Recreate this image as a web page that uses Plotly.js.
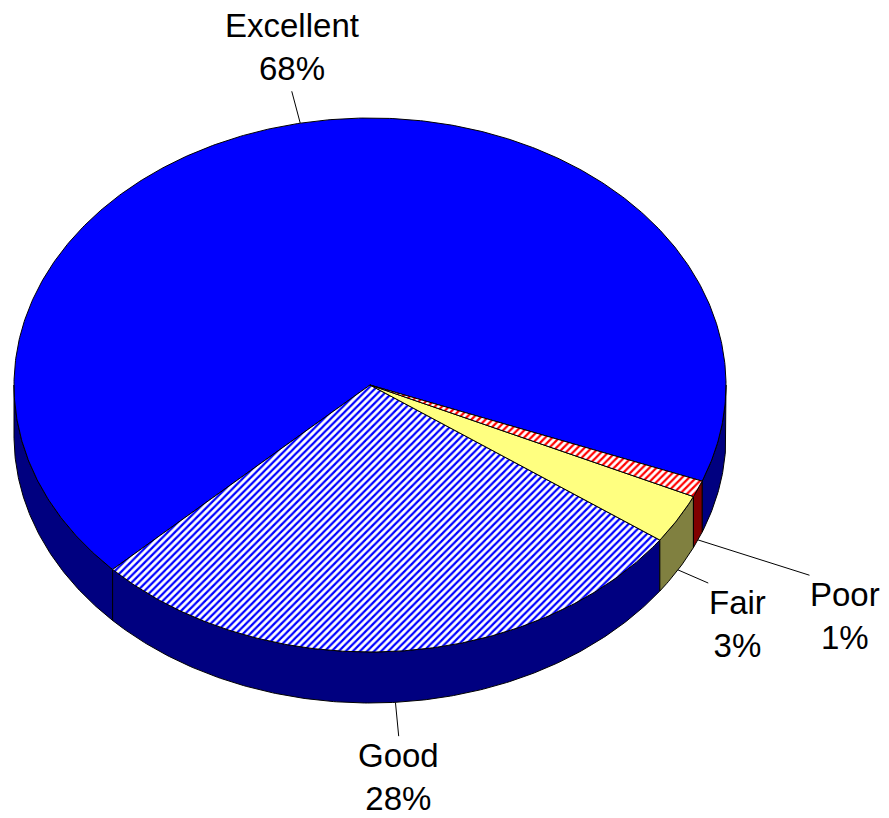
<!DOCTYPE html>
<html>
<head>
<meta charset="utf-8">
<script src="https://cdn.plot.ly/plotly-3.0.1.min.js"></script>
<style>html,body{margin:0;padding:0;background:#fff}#chart{width:889px;height:818px}</style>
</head>
<body>
<div id="chart"></div>
<script>
// ---- data ----
const categories = ['Excellent', 'Good', 'Fair', 'Poor'];
const percents = [68, 28, 3, 1];
const labelTexts = ['Excellent<br>68%', 'Good<br>28%', 'Fair<br>3%', 'Poor<br>1%'];

// ---- style ----
const topColors = ['#0000ff', '#ffffff', '#ffff80', '#ffffff'];
const hatchColors = [null, '#0000ff', null, '#ff0000'];
const sideColors = ['#000080', '#000080', '#808040', '#800000'];
const leaderLengths = [33, 34, 33, 117];
const labelXAnchor = ['center', 'center', 'left', 'left'];
const labelYAnchor = ['bottom', 'top', 'top', 'top'];
const labelYShift = [3, 0, 0, 0];

// ---- geometry (pixel space of the plot area) ----
const W = 889, H = 818;
const cx = 370, cy = 385, rx = 356, ry = 267, depth = 51;
const startDeg = -21.1; // start angle of first slice, counterclockwise
const rad = d => d * Math.PI / 180;

function pt(aDeg, dz) {
  return [cx + rx * Math.cos(rad(aDeg)), cy - ry * Math.sin(rad(aDeg)) + dz];
}
function arc(a0, a1, dz) {
  const n = Math.max(2, Math.ceil(Math.abs(a1 - a0) / 0.5));
  const xs = [], ys = [];
  for (let i = 0; i <= n; i++) {
    const a = a0 + (a1 - a0) * i / n;
    const p = pt(a, dz);
    xs.push(p[0]); ys.push(p[1]);
  }
  return [xs, ys];
}

const total = percents.reduce((s, v) => s + v, 0);
const slices = [];
let acc = startDeg;
percents.forEach((v, i) => {
  const span = v / total * 360;
  slices.push({ i, a0: acc, a1: acc + span });
  acc += span;
});

const sideTraces = [], topTraces = [], leaderTraces = [], annotations = [];

// visible front walls: angles where sin < 0 (180..360 mod 360)
function frontIntervals(a0, a1) {
  const out = [];
  for (let k = -2; k <= 2; k++) {
    const f0 = 180 + 360 * k, f1 = 360 + 360 * k;
    const s = Math.max(a0, f0), e = Math.min(a1, f1);
    if (e > s) out.push([s, e]);
  }
  return out;
}

slices.forEach(sl => {
  frontIntervals(sl.a0, sl.a1).forEach(([s, e]) => {
    const [tx, ty] = arc(s, e, 0);
    const [bx, by] = arc(e, s, depth);
    const xs = tx.concat(bx, [tx[0]]);
    const ys = ty.concat(by, [ty[0]]);
    sideTraces.push({
      type: 'scatter', mode: 'lines', x: xs, y: ys, fill: 'toself',
      fillcolor: sideColors[sl.i], line: { color: '#000', width: 1 },
      hoverinfo: 'skip', showlegend: false
    });
  });
});

slices.forEach(sl => {
  const [ax, ay] = arc(sl.a0, sl.a1, 0);
  const xs = [cx].concat(ax, [cx]);
  const ys = [cy].concat(ay, [cy]);
  const tr = {
    type: 'scatter', mode: 'lines', x: xs, y: ys, fill: 'toself',
    fillcolor: topColors[sl.i], line: { color: '#000', width: 1 },
    hoverinfo: 'skip', showlegend: false, name: categories[sl.i]
  };
  if (hatchColors[sl.i]) {
    tr.fillpattern = { shape: '/', fgcolor: hatchColors[sl.i], bgcolor: '#ffffff', size: 5, solidity: 0.45 };
  }
  topTraces.push(tr);

  // leader line
  const m = (sl.a0 + sl.a1) / 2;
  const front = Math.sin(rad(m)) < 0;
  const p0 = pt(m, front ? depth : 0);
  let dx = rx * Math.cos(rad(m)), dy = -ry * Math.sin(rad(m));
  const L = Math.hypot(dx, dy); dx /= L; dy /= L;
  const len = leaderLengths[sl.i];
  const p1 = [p0[0] + dx * len, p0[1] + dy * len];
  leaderTraces.push({
    type: 'scatter', mode: 'lines', x: [p0[0], p1[0]], y: [p0[1], p1[1]],
    line: { color: '#000', width: 1 }, hoverinfo: 'skip', showlegend: false
  });
  annotations.push({
    x: p1[0], y: p1[1], xref: 'x', yref: 'y', text: labelTexts[sl.i],
    showarrow: false, xanchor: labelXAnchor[sl.i], yanchor: labelYAnchor[sl.i],
    yshift: labelYShift[sl.i], borderpad: 0,
    align: 'center', font: { family: 'Liberation Sans, Arial, sans-serif', size: 33, color: '#000' }
  });
});

const layout = {
  width: W, height: H,
  margin: { l: 0, r: 0, t: 0, b: 0, pad: 0 },
  paper_bgcolor: '#ffffff', plot_bgcolor: '#ffffff',
  xaxis: { range: [0, W], visible: false, fixedrange: true },
  yaxis: { range: [H, 0], visible: false, fixedrange: true },
  annotations: annotations,
  showlegend: false
};

Plotly.newPlot('chart', sideTraces.concat(topTraces, leaderTraces), layout, { staticPlot: true });
</script>
</body>
</html>
